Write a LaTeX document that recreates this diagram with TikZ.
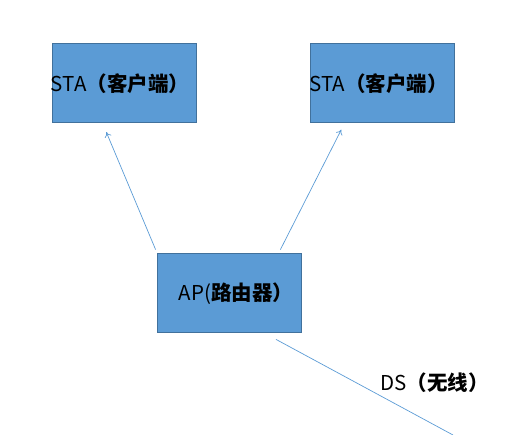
\documentclass[tikz,border=0pt]{standalone}
\usepackage{fontspec}
\setmainfont{Noto Sans CJK SC}
\usetikzlibrary{calc,arrows.meta}
\definecolor{boxfill}{HTML}{5B9BD5}
\definecolor{boxline}{HTML}{41719C}
\definecolor{linkcol}{HTML}{5B9BD5}
\begin{document}
\begin{tikzpicture}[x=1pt,y=1pt,
  box/.style={draw=boxline,fill=boxfill,line width=0.8pt,minimum width=144pt,minimum height=79pt,inner sep=0pt},
  lbl/.style={inner sep=0pt,font=\fontsize{20.5}{24}\selectfont,text=black},
  link/.style={draw=linkcol,line width=0.7pt},
  arr/.style={link,-{To[length=5pt,width=7pt]}}]
\useasboundingbox (0,0) rectangle (530,435);
\node[box] (sta1) at (124,352.3) {};
\node[box] (sta2) at (382.3,352.3) {};
\node[box] (ap) at (229.3,142.2) {};
\node[lbl] (t1) at (120,351.7) {STA\textbf{（客户端）}};
\node[lbl] (t2) at (378.5,351.7) {STA\textbf{（客户端）}};
\node[lbl] (t3) at (236,141.7) {AP(\textbf{路由器）}};
\node[lbl] (ds) at (434.5,52) {DS\textbf{（无线）}};
\coordinate (dsend) at (453,0);
\draw[arr] ($(ap.north west)+(-1.3,3.3)$) -- ($(sta1.south west)+(54.7,-9.5)$);
\draw[arr] ($(ap.north east)+(-21.3,3.3)$) -- ($(sta2.south west)+(31.4,-7.1)$);
\draw[link] ($(ap.south)+(46.7,-6.7)$) -- (dsend);
\end{tikzpicture}
\end{document}
